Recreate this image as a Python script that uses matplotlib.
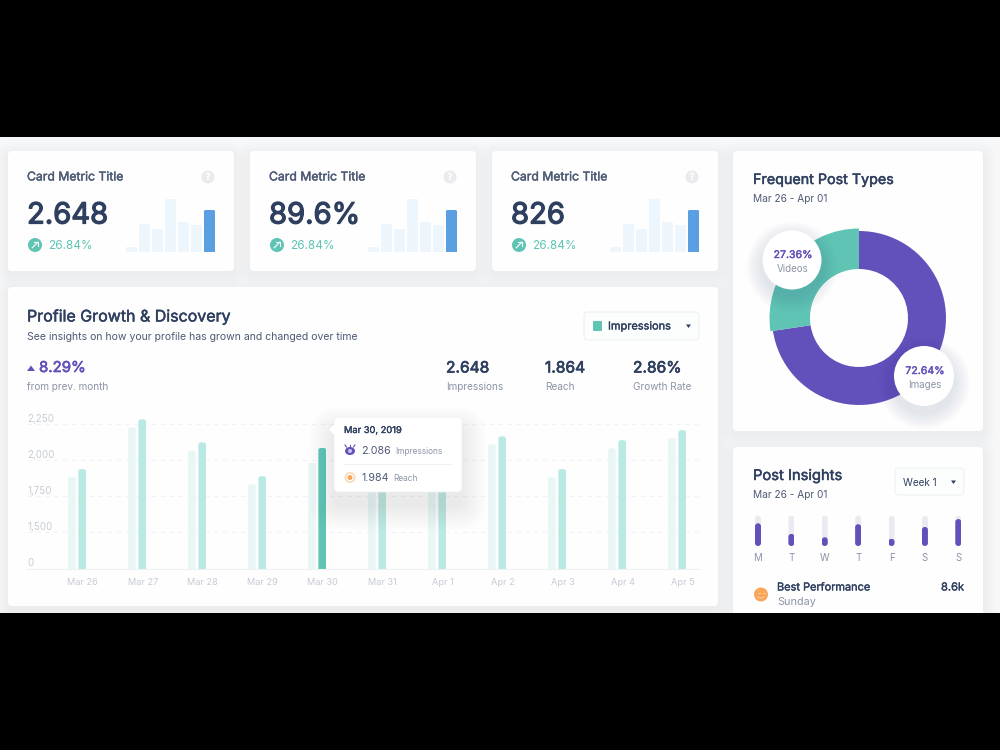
import numpy as np
import matplotlib
matplotlib.use('Agg')
import matplotlib.pyplot as plt
import matplotlib.patheffects as pe
from matplotlib.patches import FancyBboxPatch, Circle, Polygon, Ellipse
from matplotlib.transforms import IdentityTransform

plt.rcParams['font.family'] = ['Inter', 'DejaVu Sans']

# Metric cards
card_titles = ['Card Metric Title', 'Card Metric Title', 'Card Metric Title']
card_values = ['2.648', '89.6%', '826']
card_change = '26.84%'
mini_bars = [5, 28, 23, 53, 30, 27, 42]

# Profile growth chart
days = ['Mar 26', 'Mar 27', 'Mar 28', 'Mar 29', 'Mar 30', 'Mar 31',
        'Apr 1', 'Apr 2', 'Apr 3', 'Apr 4', 'Apr 5']
impressions = [1938, 2283, 2123, 1889, 2086, 2100, 2060, 2165, 1938, 2139, 2208]
reach = [1887, 2227, 2065, 1833, 1984, 2040, 2000, 2111, 1884, 2083, 2153]
y_ticks = [0, 1500, 1750, 2000, 2250]
y_labels = ['0', '1,500', '1,750', '2,000', '2,250']
y_steps = [0, 1500, 1750, 2000, 2250, 2500]
highlight = 4

# Donut
post_types = ['Images', 'Videos']
post_shares = [72.64, 27.36]

# Weekly insights
week_days = ['M', 'T', 'W', 'T', 'F', 'S', 'S']
week_values = [75, 40, 29, 72, 24, 63, 89]

NAVY = '#2f3f5f'
SLATE = '#4e5b75'
GRAY = '#8b94a7'
PALE = '#c6cbd5'
TEAL = '#5fc4b4'
MID_TEAL = '#b9e9e3'
LIGHT_TEAL = '#e8f7f5'
PURPLE = '#6351bb'
BLUE = '#5b9fe3'
LIGHT_BLUE = '#edf5fd'
ORANGE = '#f9a65a'

fig = plt.figure(figsize=(10, 7.5), dpi=100, facecolor='black')


def px_axes(x0, y0, x1, y1, zorder=2):
    ax = fig.add_axes([x0 / 1000, 1 - y1 / 750, (x1 - x0) / 1000, (y1 - y0) / 750],
                      zorder=zorder)
    ax.patch.set_alpha(0)
    return ax


def overlay(zorder):
    ax = fig.add_axes([0, 0, 1, 1], zorder=zorder)
    ax.set_xlim(0, 1000)
    ax.set_ylim(750, 0)
    ax.axis('off')
    ax.patch.set_alpha(0)
    return ax


def rbox(ax, x0, y0, x1, y1, r=4, **kw):
    box = FancyBboxPatch((x0, y0), x1 - x0, y1 - y0,
                         boxstyle='round,pad=0,rounding_size=%s' % r, **kw)
    ax.add_patch(box)
    return box


def shadow_box(ax, x0, y0, x1, y1, r=4, spread=12, drop=4, alpha=0.0025, color='#5a6a8a'):
    for s in np.linspace(spread, 1, 10):
        rbox(ax, x0 - s, y0 - s + drop, x1 + s, y1 + s + drop, r=r + s,
             fc=color, ec='none', alpha=alpha)


def shadow_circle(ax, cx, cy, r, spread=16, drop=7, alpha=0.01):
    for s in np.linspace(spread, 1, 10):
        ax.add_patch(Circle((cx, cy + drop), r + s, fc='#3d4a6a', ec='none', alpha=alpha))


def round_bars(bars, r, both=False):
    # Rounded ends are done by clipping each bar in display space
    for bar in bars:
        bb = bar.get_window_extent()
        low = bb.y0 if both else bb.y0 - r - 1
        clip = FancyBboxPatch((bb.x0, low), bb.width, bb.y1 - low,
                              boxstyle='round,pad=0,rounding_size=%s' % r,
                              transform=IdentityTransform())
        bar.set_clip_path(clip)


def label(ax, x, y, s, size, color=NAVY, thick=0, ha='left'):
    t = ax.text(x, y + 1, s, fontsize=size, color=color, ha=ha, va='center')
    if thick:
        t.set_path_effects([pe.withStroke(linewidth=thick, foreground=color)])
    return t


back = overlay(1)
front = overlay(5)

# Page background and cards
back.add_patch(plt.Rectangle((0, 137), 1000, 476, fc='#f6f7f9', ec='none'))
cards = [(8, 151, 234, 271), (250, 151, 476, 271), (492, 151, 718, 271),
         (8, 287, 718, 606), (733, 151, 983, 431), (733, 447, 983, 640)]
for c in cards:
    shadow_box(back, *c)
    rbox(back, *c, fc='#fefefe', ec='none')

# Metric cards
mini_rects = []
for i, left in enumerate([8, 250, 492]):
    label(back, left + 19, 176.5, card_titles[i], 8.8, SLATE, 0.3)
    back.add_patch(Circle((left + 200, 177), 6.5, fc='#e9ebee', ec='none'))
    label(back, left + 200, 176, '?', 7, 'white', 0.3, ha='center')
    label(back, left + 19, 215, card_values[i], 21, NAVY, 0.9)
    back.add_patch(Circle((left + 27, 245), 7, fc=TEAL, ec='none'))
    back.plot([left + 24.2, left + 29.8], [247.8, 242.2], color='white', lw=0.8)
    back.plot([left + 26.3, left + 29.8, left + 29.8], [242.2, 242.2, 245.7],
              color='white', lw=0.8)
    label(back, left + 40, 245, card_change, 8.5, TEAL)

    mini = px_axes(left + 118, 199, left + 207, 252)
    mini_colors = [LIGHT_BLUE] * 6 + [BLUE]
    mini_rects += list(mini.bar(range(7), mini_bars, width=0.85, color=mini_colors))
    mini.set_xlim(-0.423, 6.423)
    mini.set_ylim(0, 53)
    mini.axis('off')

# Profile growth header
label(back, 27, 316, 'Profile Growth & Discovery', 11.5, NAVY, 0.35)
label(back, 27, 336, 'See insights on how your profile has grown and changed over time',
      7.55, SLATE)
back.add_patch(Polygon([(27, 371), (35, 371), (31, 365.5)], fc=PURPLE, ec='none'))
label(back, 39, 367, '8.29%', 10.8, PURPLE, 0.45)
label(back, 27, 386.5, 'from prev. month', 7.2, GRAY)
for x, val, name in [(446, '2.648', 'Impressions'), (545, '1.864', 'Reach'),
                     (633, '2.86%', 'Growth Rate')]:
    label(back, x, 367, val, 11.2, NAVY, 0.5)
    label(back, x, 386.5, name, 7.2, GRAY)

# Series dropdown
rbox(back, 584, 312, 699, 340, r=4, fc='#fcfefe', ec='#edf1f5', lw=0.8)
rbox(back, 593, 321, 602, 331, r=1, fc=TEAL, ec='none')
label(back, 608, 325.5, 'Impressions', 7.9, NAVY, 0.25)
back.add_patch(Polygon([(686, 324.5), (691, 324.5), (688.5, 328)], fc=NAVY, ec='none'))

# Growth bars on a stepped axis, the 0-1,500 range takes one grid step
ax = px_axes(27, 388, 699, 568.5)
ax.set_yscale('function', functions=(
    lambda v: np.interp(v, y_steps, range(6)),
    lambda p: np.interp(p, range(6), y_steps)))
x = np.arange(len(days))
light_bars = ax.bar(x - 0.087, reach, width=0.128, color=LIGHT_TEAL)
dark_colors = [TEAL if i == highlight else MID_TEAL for i in x]
dark_bars = ax.bar(x + 0.087, impressions, width=0.128, color=dark_colors)
ax.set_xlim(-50 / 60, 622 / 60)
ax.set_ylim(0, 2500)
ax.set_yticks(y_ticks, y_labels)
ax.set_xticks(x + 0.095, days)
for t in ax.get_yticklabels():
    t.set_horizontalalignment('left')
    t.set_verticalalignment('bottom')
ax.tick_params(axis='y', length=0, pad=0, labelsize=7, labelcolor=PALE)
ax.tick_params(axis='x', length=0, pad=6.5, labelsize=6.6, labelcolor=PALE)
ax.grid(axis='y', color='#f1f3f6', lw=0.8, ls=(0, (4, 4)))
ax.set_axisbelow(True)
for side in ['top', 'right', 'left']:
    ax.spines[side].set_visible(False)
ax.spines['bottom'].set_color('#eef1f4')

# Tooltip for the highlighted day
shadow_box(front, 334, 417, 462, 492, r=5, spread=24, drop=14, alpha=0.008, color='#3f4650')
rbox(front, 334, 417, 462, 492, r=4, fc='white', ec='#eef0f3', lw=0.6)
front.add_patch(Polygon([(334.5, 424), (334.5, 435), (329, 429.5)], fc='white', ec='none'))
label(front, 344, 429.5, 'Mar 30, 2019', 6.7, NAVY, 0.25)
front.add_patch(Ellipse((350, 451), 10, 8, fc=PURPLE, ec='none'))
front.add_patch(Circle((350, 451), 2, fc='#c9c2ee', ec='none'))
front.plot([345, 346.5], [445, 447], color=PURPLE, lw=0.8)
front.plot([355, 353.5], [445, 447], color=PURPLE, lw=0.8)
front.plot([350, 350], [444.5, 446.5], color=PURPLE, lw=0.8)
label(front, 361, 449.5, '%d.%03d' % (impressions[highlight] // 1000, impressions[highlight] % 1000),
      7.7, SLATE)
label(front, 395, 450, 'Impressions', 6, GRAY)
front.plot([344, 452], [463.5, 463.5], color='#f0f2f5', lw=0.8)
for r, c in [(5.5, '#fbd9b5'), (3.8, 'white'), (2.5, ORANGE)]:
    front.add_patch(Circle((350, 477.5), r, fc=c, ec='none'))
label(front, 361, 477, '%d.%03d' % (reach[highlight] // 1000, reach[highlight] % 1000),
      7.7, SLATE)
label(front, 393, 477.5, 'Reach', 6, GRAY)

# Donut card
label(back, 753, 179, 'Frequent Post Types', 10.3, NAVY, 0.35)
label(back, 753, 198, 'Mar 26 - Apr 01', 7.3, SLATE)
donut = px_axes(859 - 87, 318 - 87, 859 + 87, 318 + 87)
wedges, _ = donut.pie(post_shares, startangle=90, counterclock=False, radius=1,
                      colors=[PURPLE, TEAL],
                      wedgeprops=dict(width=1 - 49 / 87, linewidth=0))
wedges[1].set_radius(89.5 / 87)
wedges[1].set_width(40.5 / 87)
donut.set_xlim(-1, 1)
donut.set_ylim(-1, 1)
for wedge in wedges:
    wedge.set_clip_on(False)

for (cx, cy, r), name, share in [((792, 260, 29.5), post_types[1], post_shares[1]),
                                 ((924, 376, 30), post_types[0], post_shares[0])]:
    shadow_circle(front, cx, cy, r)
    front.add_patch(Circle((cx, cy), r, fc='white', ec='none'))
    label(front, cx + 1, cy - 6, '%.2f%%' % share, 7.6, PURPLE, 0.3, ha='center')
    label(front, cx + 1, cy + 8, name, 7, GRAY, ha='center')

# Post insights card
label(back, 753, 475, 'Post Insights', 10.6, NAVY, 0.35)
label(back, 753, 494, 'Mar 26 - Apr 01', 7.3, SLATE)
rbox(back, 895, 468, 964, 495, r=4, fc='#fcfefe', ec='#edf1f5', lw=0.8)
label(back, 903, 481.5, 'Week 1', 7.2, NAVY)
back.add_patch(Polygon([(951, 480.5), (956, 480.5), (953.5, 484)], fc=NAVY, ec='none'))

wk = px_axes(741.3, 515.7, 975, 546)
pos = np.arange(len(week_days))
tracks = wk.bar(pos, [100] * 7, width=0.18, color='#e9ebf0')
fills = wk.bar(pos, week_values, width=0.18, color=PURPLE)
wk.set_xlim(-0.5, 6.5)
wk.set_ylim(0, 100)
wk.set_xticks(pos, week_days)
wk.set_yticks([])
wk.tick_params(axis='x', length=0, pad=5, labelsize=7, labelcolor=GRAY)
for spine in wk.spines.values():
    spine.set_visible(False)

fig.canvas.draw()
round_bars(mini_rects, 1.5)
round_bars(list(light_bars) + list(dark_bars), 2.5)
round_bars(list(tracks) + list(fills), 3, both=True)

back.add_patch(Circle((761, 594.5), 7, fc=ORANGE, ec='none'))
back.plot([757.5, 759.5], [592.5, 592.5], color='#fcd9b0', lw=0.6)
back.plot([762.5, 764.5], [592.5, 592.5], color='#fcd9b0', lw=0.6)
smile = np.linspace(0.15, 0.85, 12) * np.pi
back.plot(761 + 3.5 * np.cos(smile), 595.5 + 2.5 * np.sin(smile), color='#fcd9b0', lw=0.6)
label(back, 777, 586.5, 'Best Performance', 7.9, NAVY, 0.25)
label(back, 964, 586.5, '8.6k', 8, NAVY, 0.25, ha='right')
label(back, 777, 601, 'Sunday', 7.8, GRAY)

# Letterbox bands
front.add_patch(plt.Rectangle((0, 0), 1000, 137, fc='black', ec='none', zorder=10))
front.add_patch(plt.Rectangle((0, 613), 1000, 137, fc='black', ec='none', zorder=10))

fig.savefig('out.png', dpi=100, facecolor='black')
